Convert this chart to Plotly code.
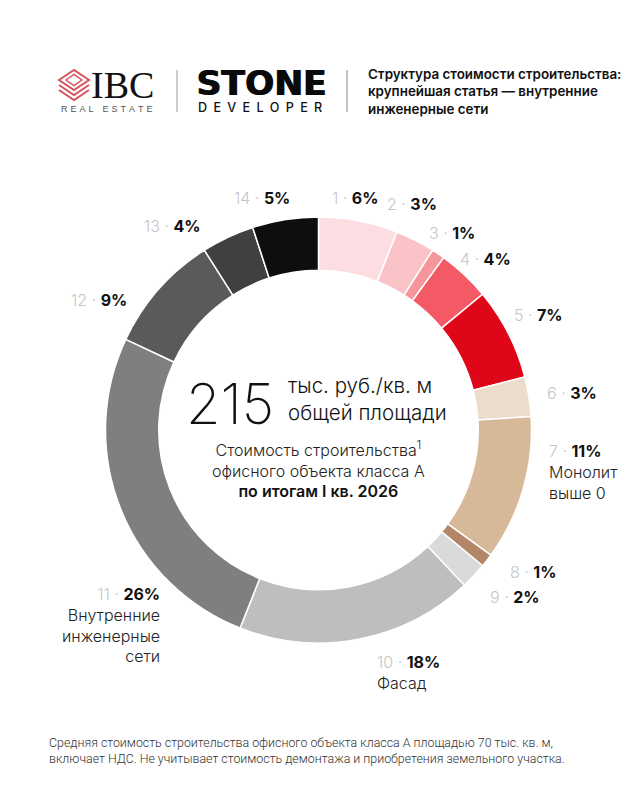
import plotly.graph_objects as go

# ---------------- data ----------------
item_numbers = [1, 2, 3, 4, 5, 6, 7, 8, 9, 10, 11, 12, 13, 14]
shares_pct = [6, 3, 1, 4, 7, 3, 11, 1, 2, 18, 26, 9, 4, 5]
item_names = ["", "", "", "", "", "", "Монолит<br>выше 0", "", "", "Фасад",
              "Внутренние<br>инженерные<br>сети", "", "", ""]
total_cost = "215"
cost_unit = "тыс. руб./кв. м<br>общей площади"
title_text = "Структура стоимости строительства:<br>крупнейшая статья — внутренние<br>инженерные сети"
footnote = ("Средняя стоимость строительства офисного объекта класса А площадью 70 тыс. кв. м,<br>"
            "включает НДС. Не учитывает стоимость демонтажа и приобретения земельного участка.")

# ---------------- style ----------------
W, H = 640, 800
slice_colors = ["#fcdde1", "#fac3c8", "#f7959d", "#f35a65", "#e0061a", "#ecdccb", "#d7b899",
                "#b38668", "#dadada", "#bebebe", "#7f7f7f", "#5a5a5a", "#404040", "#0e0e0e"]
CX, CY, R = 318.5, 430, 213
# label anchor offsets (px, relative to donut centre) and horizontal anchor
label_layout = [
    (11.5, -234, "left"), (66.5, -227, "left"), (108.5, -199, "left"), (139.5, -173, "left"),
    (193.5, -117, "left"), (226.5, -38, "left"), (228.5, 20, "left"), (189.5, 140, "left"),
    (169.5, 165, "left"), (56.5, 230, "left"), (-156.5, 162, "right"), (-189.5, -132, "right"),
    (-115.5, -205, "right"), (-26.5, -234, "right"),
]


def px(x):
    return x / W


def py(y):
    return 1 - y / H


fig = go.Figure()
fig.add_trace(go.Pie(
    values=shares_pct,
    labels=[str(n) for n in item_numbers],
    marker=dict(colors=slice_colors, line=dict(color="white", width=1.5)),
    hole=0.75,
    sort=False,
    direction="clockwise",
    rotation=0,
    textinfo="none",
    hoverinfo="label+percent",
    showlegend=False,
    domain=dict(x=[px(CX - R), px(CX + R)], y=[py(CY + R), py(CY - R)]),
))

ann = []
# slice labels
for n, v, name, (dx, dy, anc) in zip(item_numbers, shares_pct, item_names, label_layout):
    txt = (f"<span style='color:#c6c6c6;font-weight:300'>{n} · </span>"
           f"<span style='color:#111111;font-weight:700'>{v}%</span>")
    if name:
        txt += f"<br><span style='color:#222222;font-weight:300'>{name}</span>"
    ann.append(dict(x=px(CX + dx), y=py(CY + dy - 10.5), xref="paper", yref="paper",
                    xanchor=anc, yanchor="top", align=anc, showarrow=False, text=txt,
                    font=dict(family="Inter", size=16, color="#222222")))

# centre text
ann.append(dict(x=px(276), y=py(404), xref="paper", yref="paper", xanchor="right", yanchor="middle",
                showarrow=False, text=total_cost,
                font=dict(family="Inter", size=56, color="#111111", weight=200)))
ann.append(dict(x=px(286), y=py(399), xref="paper", yref="paper", xanchor="left", yanchor="middle",
                align="left", showarrow=False, text=cost_unit,
                font=dict(family="Inter", size=20.5, color="#111111", weight=300)))
ann.append(dict(x=px(CX), y=py(469), xref="paper", yref="paper", xanchor="center", yanchor="middle",
                align="center", showarrow=False,
                text=("Стоимость строительства<sup>1</sup><br>офисного объекта класса А<br>"
                      "<span style='font-weight:600;color:#111111'>по итогам I кв. 2026</span>"),
                font=dict(family="Inter", size=16, color="#222222", weight=300)))

# header: IBC
ann.append(dict(x=px(89), y=py(85), xref="paper", yref="paper", xanchor="left", yanchor="middle",
                showarrow=False, text="IBC",
                font=dict(family="Liberation Serif", size=38, color="#111111")))
ann.append(dict(x=px(59), y=py(109), xref="paper", yref="paper", xanchor="left", yanchor="middle",
                showarrow=False,
                text="\u2005\u200a".join("REAL") + "\u2002\u2002" + "\u2005\u200a".join("ESTATE"),
                font=dict(family="Liberation Sans", size=9, color="#555555")))
# header: STONE (text shadow thickens the strokes)
ann.append(dict(x=px(194), y=py(83), xref="paper", yref="paper", xanchor="left",
                yanchor="middle", showarrow=False, text="STONE",
                font=dict(family="DejaVu Sans", size=34.5, color="#0a0a0a", weight=700,
                          shadow="1.2px 0px 0px #0a0a0a")))
ann.append(dict(x=px(196), y=py(107), xref="paper", yref="paper", xanchor="left", yanchor="middle",
                showarrow=False, text="\u2002".join("DEVELOPER"),
                font=dict(family="Inter", size=12.6, color="#111111", weight=500)))
# header: title
ann.append(dict(x=px(366), y=py(91), xref="paper", yref="paper", xanchor="left", yanchor="middle",
                align="left", showarrow=False, text=title_text,
                font=dict(family="Inter", size=13.4, color="#111111", weight=600)))
# footnote
ann.append(dict(x=px(47), y=py(750), xref="paper", yref="paper", xanchor="left", yanchor="middle",
                align="left", showarrow=False, text=footnote,
                font=dict(family="Roboto", size=12.4, color="#333333", weight=300)))

shapes = [
    dict(type="line", xref="paper", yref="paper", x0=px(177), x1=px(177), y0=py(70), y1=py(112),
         line=dict(color="#9a9a9a", width=1)),
    dict(type="line", xref="paper", yref="paper", x0=px(347), x1=px(347), y0=py(70), y1=py(112),
         line=dict(color="#9a9a9a", width=1.2)),
]
# IBC icon: stacked diamonds
red = "#d4545e"


def diamond_path(cx, cy, hw, hh):
    return (f"M {px(cx - hw)} {py(cy)} L {px(cx)} {py(cy - hh)} L {px(cx + hw)} {py(cy)} "
            f"L {px(cx)} {py(cy + hh)} Z")


def chevron_path(cx, cy, hw, hh):
    return f"M {px(cx - hw)} {py(cy)} L {px(cx)} {py(cy + hh)} L {px(cx + hw)} {py(cy)}"


shapes.append(dict(type="path", xref="paper", yref="paper", path=diamond_path(74, 80, 15, 10),
                   line=dict(color=red, width=2)))
shapes.append(dict(type="path", xref="paper", yref="paper", path=diamond_path(74, 80, 8, 5.5),
                   line=dict(color=red, width=1.5)))
shapes.append(dict(type="path", xref="paper", yref="paper", path=chevron_path(74, 85, 15, 10),
                   line=dict(color=red, width=2)))
shapes.append(dict(type="path", xref="paper", yref="paper", path=chevron_path(74, 90, 15, 10),
                   line=dict(color=red, width=2)))

fig.update_layout(
    width=W, height=H,
    margin=dict(l=0, r=0, t=0, b=0),
    paper_bgcolor="white", plot_bgcolor="white",
    annotations=ann, shapes=shapes,
    font=dict(family="Inter"),
)
fig.write_html("out.html")
